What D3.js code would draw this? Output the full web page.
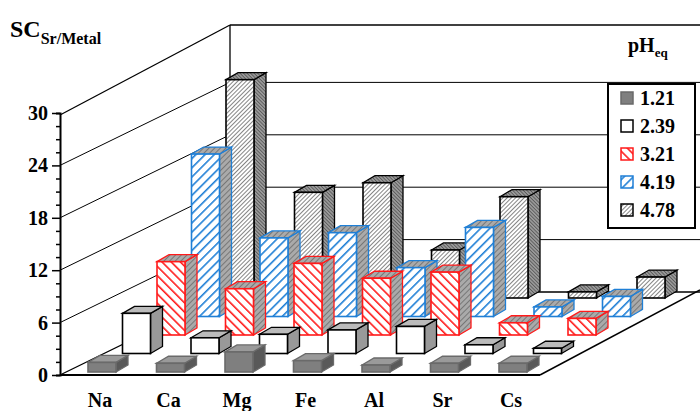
<!DOCTYPE html>
<html><head><meta charset="utf-8">
<script src="https://cdn.jsdelivr.net/npm/d3@7"></script>
<style>body{margin:0;background:#fff}text{font-family:"Liberation Serif","Times New Roman",serif;font-weight:bold}</style>
</head><body><svg id="c" width="700" height="411"></svg>
<script>
const categories=["Na","Ca","Mg","Fe","Al","Sr","Cs"];
const seriesNames=["1.21","2.39","3.21","4.19","4.78"];
const s121=[1.1,1.0,2.3,1.3,0.8,1.0,1.0];
const s239=[4.6,1.8,2.2,2.7,3.1,1.0,0.6];
const s321=[8.4,5.3,8.2,6.5,7.2,1.4,1.9];
const s419=[18.6,9.0,9.6,5.6,10.2,1.1,2.3];
const s478=[25.0,12.1,13.2,5.5,11.6,0.7,2.4];
const series=[s121,s239,s321,s419,s478];
const yTicks=[0,6,12,18,24,30];

const svg=d3.select("#c");
const defs=svg.append("defs");
function pat(id,size,bg,col,w,rot){
  const p=defs.append("pattern").attr("id",id).attr("patternUnits","userSpaceOnUse").attr("width",size).attr("height",size)
    .attr("patternTransform","rotate("+rot+")");
  p.append("rect").attr("width",size).attr("height",size).attr("fill",bg);
  p.append("line").attr("x1",0).attr("y1",0).attr("x2",0).attr("y2",size).attr("stroke",col).attr("stroke-width",w);
}
pat("pRed",6.5,"#fff","#ff1a1a",3.2,-45);
pat("pBlue",6.5,"#fff","#1f7fd6",3.2,45);
pat("pBlk",3,"#fff","#333",1.2,45);
pat("pSide",4,"#aaa","#444",1,45);
pat("pSideB",2.5,"#999","#222",0.9,-45);

const y=d3.scaleLinear().domain([0,30]).range([375,113]);
const xi=d3.scaleLinear().domain([0,1]).range([88,156.5]);
const rowDX=34.5,rowDY=-18.5,bw=28,bdx=12,bdy=-7;
const styles=[
 {front:"#7f7f7f",side:"#595959",top:"#9a9a9a",stroke:"#6a6a6a"},
 {front:"#fff",side:"#999",top:"#bbb",stroke:"#000"},
 {front:"url(#pRed)",side:"url(#pSide)",top:"url(#pSide)",stroke:"#ff1a1a"},
 {front:"url(#pBlue)",side:"url(#pSide)",top:"url(#pSide)",stroke:"#1f7fd6"},
 {front:"url(#pBlk)",side:"url(#pSideB)",top:"url(#pSideB)",stroke:"#000"}];

const g=svg.append("g");
const DY=-83;
g.append("path").attr("d",`M60,375 L230,292 L700,292`).attr("fill","none").attr("stroke","#000").attr("stroke-width",1.3);
g.append("path").attr("d",`M540,375 L700,290`).attr("fill","none").attr("stroke","#000").attr("stroke-width",1.5);
g.append("line").attr("x1",230).attr("x2",230).attr("y1",292).attr("y2",25).attr("stroke","#000").attr("stroke-width",1.3);
g.append("line").attr("x1",230).attr("x2",700).attr("y1",25).attr("y2",25).attr("stroke","#000").attr("stroke-width",1.3);
g.append("line").attr("x1",60).attr("x2",230).attr("y1",y(30)+2).attr("y2",25).attr("stroke","#000").attr("stroke-width",1.3);
yTicks.slice(1,5).forEach(t=>{
  g.append("path").attr("d",`M60,${y(t)} L230,${y(t)+DY} L700,${y(t)+DY}`).attr("fill","none").attr("stroke","#000").attr("stroke-width",1);
});
g.append("line").attr("x1",60).attr("x2",540).attr("y1",375).attr("y2",375).attr("stroke","#000").attr("stroke-width",2);

for(let k=4;k>=0;k--){
  const st=styles[k];
  series[k].forEach((v,i)=>{
    const x0=xi(i)+rowDX*k, b=375+rowDY*k-3, t=b-(y(0)-y(v));
    const bg=svg.append("g");
    bg.append("path").attr("d",`M${x0+bw},${b} L${x0+bw+bdx},${b+bdy} L${x0+bw+bdx},${t+bdy} L${x0+bw},${t}Z`).attr("fill",st.side).attr("stroke",st.stroke).attr("stroke-width",1.3);
    bg.append("path").attr("d",`M${x0},${t} L${x0+bdx},${t+bdy} L${x0+bw+bdx},${t+bdy} L${x0+bw},${t}Z`).attr("fill",st.top).attr("stroke",st.stroke).attr("stroke-width",1.3);
    bg.append("rect").attr("x",x0).attr("y",t).attr("width",bw).attr("height",b-t).attr("fill",st.front).attr("stroke",st.stroke).attr("stroke-width",1.6);
  });
}

const ax=svg.append("g").attr("transform","translate(60,0)").call(d3.axisLeft(y).tickValues(d3.range(0,30.1,1.5)).tickSize(4).tickFormat(d=>yTicks.includes(d)?d:""));
ax.select(".domain").attr("stroke-width",2);
ax.selectAll(".tick line").attr("stroke-width",1.5).attr("x2",d=>yTicks.includes(d)?-8:-4);
ax.selectAll(".tick text").attr("x",-12).attr("font-size",20).attr("font-family","Liberation Serif").attr("font-weight","bold").attr("fill","#000");

categories.forEach((c,i)=>svg.append("text").attr("x",xi(i)+12).attr("y",407).attr("text-anchor","middle").attr("font-size",20).text(c));

const tt=svg.append("text").attr("x",10).attr("y",37).attr("font-size",24);
tt.append("tspan").text("SC");
tt.append("tspan").attr("font-size",16).attr("dy",7).text("Sr/Metal");
const ph=svg.append("text").attr("x",628).attr("y",52).attr("font-size",20);
ph.append("tspan").text("pH");
ph.append("tspan").attr("font-size",13).attr("dy",5).text("eq");

const lg=svg.append("g");
lg.append("rect").attr("x",608).attr("y",84).attr("width",87).attr("height",144).attr("fill","#fff").attr("stroke","#000").attr("stroke-width",2);
seriesNames.forEach((n,k)=>{
  const yy=98+k*28;
  lg.append("rect").attr("x",621).attr("y",yy-6).attr("width",12).attr("height",12).attr("fill",k==0?"#7f7f7f":styles[k].front).attr("stroke",styles[k].stroke).attr("stroke-width",1.5);
  lg.append("text").attr("x",640).attr("y",yy+7).attr("font-size",20).text(n);
});
</script></body></html>
